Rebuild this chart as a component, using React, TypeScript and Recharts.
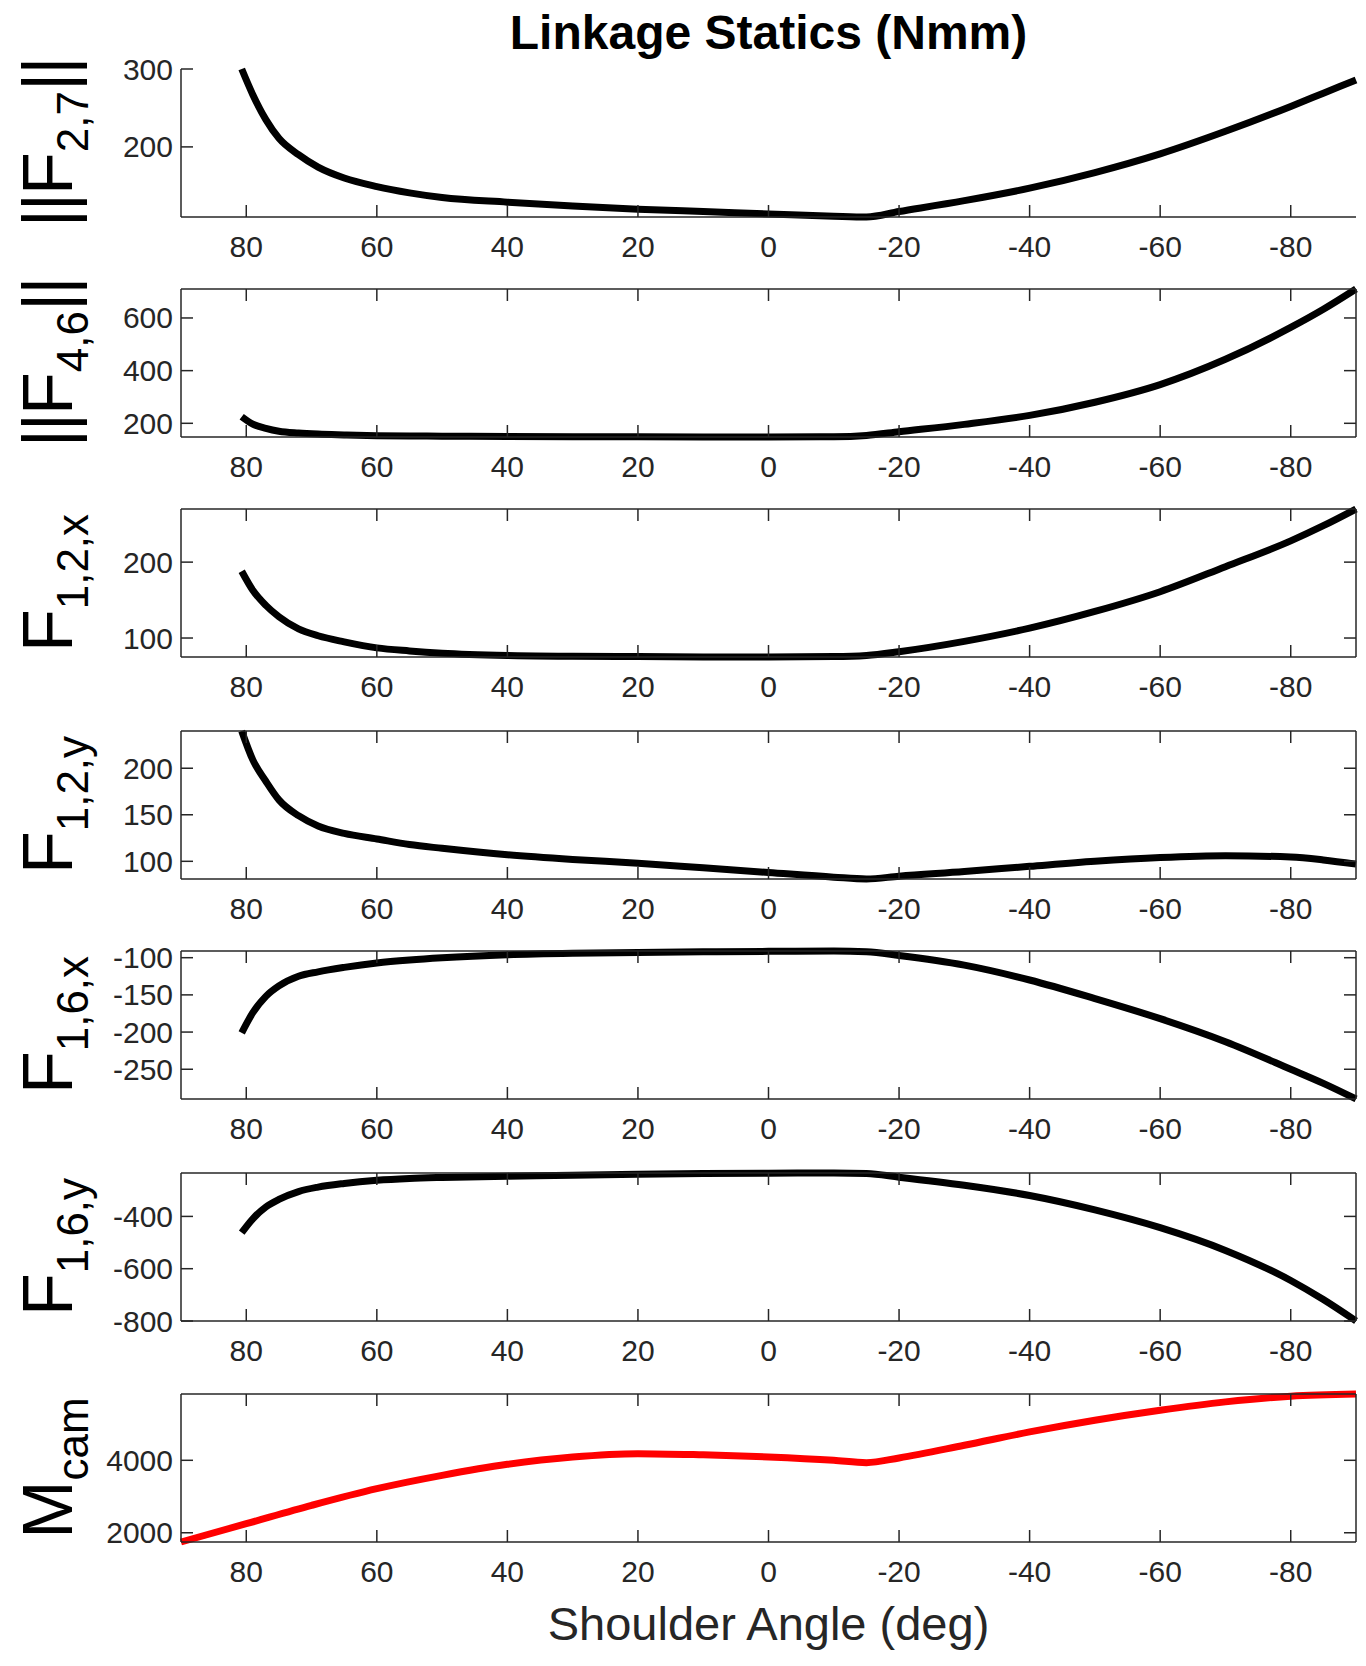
import React from "react";
import { LineChart, Line, XAxis, YAxis } from "recharts";

// shoulder angle samples (deg) for the force panels
const angles = [80.7, 79, 77, 75, 72, 69, 65, 60, 55, 50, 40, 30, 20, 10, 0, -10, -15, -20, -30, -40, -50, -60, -70, -80, -85, -90];
const f27 = [300, 267, 235, 211, 190, 174, 160, 149, 141, 135, 129, 124, 120, 117, 114, 111, 110, 117, 131, 147, 167, 191, 220, 252, 269, 286];
const f46 = [225, 197, 181, 170, 163, 159, 156, 153, 152, 151, 150, 149, 148.5, 148, 148, 149, 154, 168, 196, 230, 280, 347, 443, 564, 633, 710];
const f12x = [188, 163, 143, 128, 112, 103, 95, 87, 83, 80, 77, 76, 75.5, 75, 75, 75.5, 77, 82, 95.6, 113, 135, 161, 194, 228, 248, 270];
const f12y = [240, 209, 186, 166, 149, 138, 130, 124, 118, 114, 107, 102, 98, 93, 88, 83, 81, 84, 89, 94.6, 100, 104, 106, 104.6, 101.5, 97];
const f16x = [-201, -174, -152, -138, -125, -119, -113, -107, -103, -100, -96, -94, -93, -92, -91.5, -91, -92, -97, -110, -130, -155, -182, -213, -250, -269, -290];
const f16y = [-462, -409, -364, -335, -305, -288, -274, -262, -255, -251, -246, -243, -239, -236, -235, -234, -236, -250, -281, -320, -375, -443, -530, -645, -718, -800];

// cam moment covers the full range
const camAngles = [90, 80, 70, 60, 50, 40, 30, 20, 10, 0, -10, -15, -20, -30, -40, -50, -60, -70, -80, -90];
const mCam = [1745, 2249, 2756, 3217, 3585, 3889, 4092, 4184, 4150, 4092, 4000, 3935, 4065, 4415, 4783, 5106, 5382, 5613, 5770, 5830];

const xTicks = [80, 60, 40, 20, 0, -20, -40, -60, -80];
const f27Ticks = [200, 300];
const f46Ticks = [200, 400, 600];
const f12xTicks = [100, 200];
const f12yTicks = [100, 150, 200];
const f16xTicks = [-250, -200, -150, -100];
const f16yTicks = [-800, -600, -400];
const mCamTicks = [2000, 4000];

const W = 1366;
const PLOT_LEFT = 181;
const PLOT_RIGHT = 1356;
const PLOT_W = PLOT_RIGHT - PLOT_LEFT;
const PLOT_H = 148;
const PAD_TOP = 40;
const PANEL_TOPS = [69, 289, 509, 731, 951, 1173, 1394];
const AXIS = "#262626";
const FONT = "'Liberation Sans', Arial, Helvetica, sans-serif";
const TICK_LEN = 12;

type Panel = {
  main: string;
  sub: string;
  bars: boolean;
  xs: number[];
  ys: number[];
  domain: [number, number];
  ticks: number[];
  color: string;
  box: boolean;
};

const panels: Panel[] = [
  { main: "F", sub: "2,7", bars: true, xs: angles, ys: f27, domain: [110, 300], ticks: f27Ticks, color: "#000", box: false },
  { main: "F", sub: "4,6", bars: true, xs: angles, ys: f46, domain: [148, 710], ticks: f46Ticks, color: "#000", box: true },
  { main: "F", sub: "1,2,x", bars: false, xs: angles, ys: f12x, domain: [75, 270], ticks: f12xTicks, color: "#000", box: true },
  { main: "F", sub: "1,2,y", bars: false, xs: angles, ys: f12y, domain: [81, 240], ticks: f12yTicks, color: "#000", box: true },
  { main: "F", sub: "1,6,x", bars: false, xs: angles, ys: f16x, domain: [-290, -91], ticks: f16xTicks, color: "#000", box: true },
  { main: "F", sub: "1,6,y", bars: false, xs: angles, ys: f16y, domain: [-800, -234], ticks: f16yTicks, color: "#000", box: true },
  { main: "M", sub: "cam", bars: false, xs: camAngles, ys: mCam, domain: [1745, 5830], ticks: mCamTicks, color: "#ff0000", box: true },
];

// inward ticks; boxed panels also get the mirrored tick on the opposite side
function BottomTick({ x, y, payload, box }: any) {
  return (
    <g>
      <line x1={x} x2={x} y1={y} y2={y - TICK_LEN} stroke={AXIS} strokeWidth={1.5} />
      {box && <line x1={x} x2={x} y1={y - PLOT_H} y2={y - PLOT_H + TICK_LEN} stroke={AXIS} strokeWidth={1.5} />}
      <text x={x} y={y + 40} textAnchor="middle" fontSize={30} fontFamily={FONT} fill={AXIS}>
        {payload.value}
      </text>
    </g>
  );
}

function LeftTick({ x, y, payload, box }: any) {
  return (
    <g>
      <line x1={x} x2={x + TICK_LEN} y1={y} y2={y} stroke={AXIS} strokeWidth={1.5} />
      {box && <line x1={x + PLOT_W} x2={x + PLOT_W - TICK_LEN} y1={y} y2={y} stroke={AXIS} strokeWidth={1.5} />}
      <text x={x - 8} y={y + 10.5} textAnchor="end" fontSize={30} fontFamily={FONT} fill={AXIS}>
        {payload.value}
      </text>
    </g>
  );
}

// rotated y label with a subscript, MATLAB tex style
function AxisTitle({ viewBox, main, sub, bars }: any) {
  const cy = viewBox.y + viewBox.height / 2;
  return (
    <g transform={`translate(72, ${cy}) rotate(-90)`}>
      <text x={0} y={0} textAnchor="middle" fontSize={70} fontFamily={FONT} fill="#000">
        {bars ? <tspan letterSpacing={-2}>||</tspan> : null}
        <tspan>{main}</tspan>
        <tspan dy={16} fontSize={44}>{sub}</tspan>
        {bars ? <tspan dy={-16} fontSize={70} letterSpacing={-2}>||</tspan> : null}
      </text>
    </g>
  );
}

function PanelChart({ p, top }: { p: Panel; top: number }) {
  const data = p.xs.map((a, i) => ({ angle: a, v: p.ys[i] }));
  const height = PAD_TOP + PLOT_H + 55;
  return (
    <div style={{ position: "absolute", left: 0, top: top - PAD_TOP }}>
      <LineChart
        width={W}
        height={height}
        data={data}
        margin={{ top: p.box ? PAD_TOP - 5 : PAD_TOP, right: p.box ? 0 : W - PLOT_RIGHT, bottom: 5, left: PLOT_LEFT - 60 }}
      >
        <XAxis
          dataKey="angle"
          type="number"
          domain={[-90, 90]}
          reversed
          ticks={xTicks}
          interval={0}
          height={50}
          tickSize={0}
          tickMargin={0}
          tickLine={false}
          axisLine={{ stroke: AXIS, strokeWidth: 1.5 }}
          tick={<BottomTick box={p.box} />}
        />
        <YAxis
          dataKey="v"
          type="number"
          domain={p.domain}
          ticks={p.ticks}
          interval={0}
          width={60}
          tickSize={0}
          tickMargin={0}
          tickLine={false}
          axisLine={{ stroke: AXIS, strokeWidth: 1.5 }}
          tick={<LeftTick box={p.box} />}
          label={{ content: (props: any) => <AxisTitle {...props} main={p.main} sub={p.sub} bars={p.bars} /> }}
        />
        {p.box && (
          <XAxis
            xAxisId="top"
            orientation="top"
            type="number"
            domain={[-90, 90]}
            allowDataOverflow
            height={5}
            tick={false}
            tickLine={false}
            axisLine={{ stroke: AXIS, strokeWidth: 1.5 }}
          />
        )}
        {p.box && (
          <YAxis
            yAxisId="right"
            orientation="right"
            type="number"
            domain={p.domain}
            allowDataOverflow
            width={W - PLOT_RIGHT}
            tick={false}
            tickLine={false}
            axisLine={{ stroke: AXIS, strokeWidth: 1.5 }}
          />
        )}
        <Line
          type="monotone"
          dataKey="v"
          stroke={p.color}
          strokeWidth={7}
          dot={false}
          activeDot={false}
          isAnimationActive={false}
        />
      </LineChart>
    </div>
  );
}

export default function App() {
  return (
    <div style={{ position: "absolute", left: 0, top: 0, width: W, height: 1666, background: "#fff" }}>
      <svg width={W} height={1666} style={{ position: "absolute", left: 0, top: 0 }}>
        <text x={768.5} y={49} textAnchor="middle" fontSize={48} fontWeight="bold" fontFamily={FONT} fill="#000">
          Linkage Statics (Nmm)
        </text>
        <text x={768.5} y={1640} textAnchor="middle" fontSize={47} fontFamily={FONT} fill={AXIS}>
          Shoulder Angle (deg)
        </text>
      </svg>
      {panels.map((p, i) => (
        <PanelChart key={i} p={p} top={PANEL_TOPS[i]} />
      ))}
    </div>
  );
}
